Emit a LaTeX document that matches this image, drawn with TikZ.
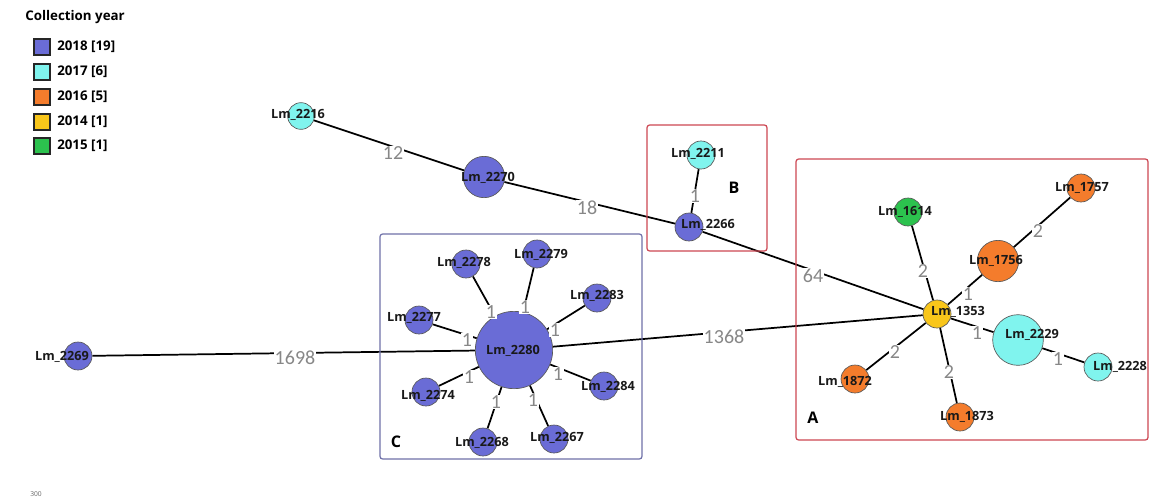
\documentclass[tikz,border=0pt]{standalone}
\usepackage{fontspec}
\setmainfont{Open Sans}
\newfontfamily\numfont{Carlito}
\usetikzlibrary{backgrounds}
\definecolor{cEight}{RGB}{106,108,214}
\definecolor{cSeven}{RGB}{128,244,238}
\definecolor{cSix}{RGB}{244,124,44}
\definecolor{cFour}{RGB}{249,198,26}
\definecolor{cFive}{RGB}{44,194,78}
\definecolor{boxred}{RGB}{204,70,82}
\definecolor{boxblue}{RGB}{110,112,168}
\definecolor{elgray}{RGB}{135,135,135}
\tikzset{
  nd/.style={circle,draw=black!65,line width=0.5pt,inner sep=0pt},
  rs/.style={minimum size=21pt},
  lab/.style={font=\fontsize{9.5}{10}\selectfont\bfseries,inner sep=0pt,text=black!90},
  el/.style={font=\numfont\fontsize{15}{15}\selectfont,text=elgray,fill=white,inner sep=0.6pt},
  edge/.style={line width=1.3pt,black},
  grp/.style={line width=0.9pt,rounded corners=2pt},
  grplab/.style={font=\fontsize{12}{12}\selectfont\bfseries,inner sep=0pt},
  lgbox/.style={draw=black!85,line width=1pt,minimum size=12pt,inner sep=0pt},
  lgtxt/.style={font=\fontsize{10}{11}\selectfont\bfseries,anchor=west,inner sep=0pt}
}
\begin{document}
\begin{tikzpicture}[x=0.75pt,y=-0.75pt]
\useasboundingbox (0,0) rectangle (1151,501);
% group boxes
\draw[grp,draw=boxblue] (380,234) rectangle (642,459);
\draw[grp,draw=boxred] (647,125) rectangle (767,251);
\draw[grp,draw=boxred] (796,159) rectangle (1148,440);
\node[grplab] (gC) at (396,442) {C};
\node[grplab] (gB) at (734,188) {B};
\node[grplab] (gA) at (813,418) {A};
% legend
\node[font=\fontsize{10}{11}\selectfont\bfseries,anchor=west,inner sep=0pt] (lgt) at (25,17) {Collection year};
\node[lgbox,fill=cEight] (lg1) at (42,47) {};
\node[lgtxt] (lt1) at (57,47) {2018 [19]};
\node[lgbox,fill=cSeven] (lg2) at (42,72) {};
\node[lgtxt] (lt2) at (57,72) {2017 [6]};
\node[lgbox,fill=cSix] (lg3) at (42,97) {};
\node[lgtxt] (lt3) at (57,97) {2016 [5]};
\node[lgbox,fill=cFour] (lg4) at (42,122) {};
\node[lgtxt] (lt4) at (57,122) {2014 [1]};
\node[lgbox,fill=cFive] (lg5) at (42,146) {};
\node[lgtxt] (lt5) at (57,146) {2015 [1]};
% nodes
\node[nd,rs,minimum size=20pt,fill=cSeven] (n2216) at (301,116) {};
\node[nd,minimum size=31pt,fill=cEight] (n2270) at (484,177) {};
\node[nd,rs,fill=cEight] (n2266) at (689,227) {};
\node[nd,rs,fill=cSeven] (n2211) at (701,155) {};
\node[nd,rs,fill=cFour] (n1353) at (937,314) {};
\node[nd,rs,fill=cFive] (n1614) at (908,212) {};
\node[nd,minimum size=31pt,fill=cSix] (n1756) at (998,261) {};
\node[nd,rs,fill=cSix] (n1757) at (1081,188) {};
\node[nd,minimum size=38pt,fill=cSeven] (n2229) at (1018,340) {};
\node[nd,rs,fill=cSeven] (n2228) at (1098,367) {};
\node[nd,rs,fill=cSix] (n1872) at (855,379) {};
\node[nd,rs,fill=cSix] (n1873) at (960,417) {};
\node[nd,minimum size=58pt,fill=cEight] (n2280) at (514,350) {};
\node[nd,rs,fill=cEight] (n2278) at (466,264) {};
\node[nd,rs,fill=cEight] (n2279) at (537,254) {};
\node[nd,rs,fill=cEight] (n2283) at (597,298) {};
\node[nd,rs,fill=cEight] (n2277) at (419,320) {};
\node[nd,rs,fill=cEight] (n2284) at (604,386) {};
\node[nd,rs,fill=cEight] (n2274) at (426,392) {};
\node[nd,rs,fill=cEight] (n2268) at (483,442) {};
\node[nd,rs,fill=cEight] (n2267) at (554,439) {};
\node[nd,rs,fill=cEight] (n2269) at (78,356) {};
% edges
\begin{scope}[on background layer]
\draw[edge] (n2216) -- (n2270);
\draw[edge] (n2270) -- (n2266);
\draw[edge] (n2266) -- (n1353);
\draw[edge] (n2211) -- (n2266);
\draw[edge] (n2269) -- (n2280);
\draw[edge] (n2280) -- (n1353);
\draw[edge] (n1353) -- (n1614);
\draw[edge] (n1353) -- (n1756);
\draw[edge] (n1756) -- (n1757);
\draw[edge] (n1353) -- (n2229);
\draw[edge] (n2229) -- (n2228);
\draw[edge] (n1353) -- (n1872);
\draw[edge] (n1353) -- (n1873);
\foreach \t in {2278,2279,2283,2277,2284,2274,2268,2267}
  \draw[edge] (n2280) -- (n\t);
\end{scope}
% edge labels
\node[el] (e12) at (393,153) {12};
\node[el] (e18) at (587,208) {18};
\node[el] (e64) at (813,276) {64};
\node[el] (e1698) at (295,358) {1698};
\node[el] (e1368) at (724,337) {1368};
\node[el] (eB) at (695,196) {1};
\node[el] (eA1) at (923,271) {2};
\node[el] (eA2) at (968,294) {1};
\node[el] (eA3) at (1038,231) {2};
\node[el] (eA4) at (977,333) {1};
\node[el] (eA5) at (1058,359) {1};
\node[el] (eA6) at (895,352) {2};
\node[el] (eA7) at (949,372) {2};
\node[el] (eC1) at (491,312) {1};
\node[el] (eC2) at (525,307) {1};
\node[el] (eC3) at (555,330) {1};
\node[el] (eC4) at (467,340) {1};
\node[el] (eC5) at (558,374) {1};
\node[el] (eC6) at (469,377) {1};
\node[el] (eC7) at (496,402) {1};
\node[el] (eC8) at (533,400) {1};
% node labels
\node[lab] (t2216) at (298,115) {Lm\_2216};
\node[lab] (t2270) at (488,178) {Lm\_2270};
\node[lab] (t2266) at (708,225) {Lm\_2266};
\node[lab] (t2211) at (698,154) {Lm\_2211};
\node[lab] (t1353) at (958,312) {Lm\_1353};
\node[lab] (t1614) at (905,212) {Lm\_1614};
\node[lab] (t1756) at (996,261) {Lm\_1756};
\node[lab] (t1757) at (1082,188) {Lm\_1757};
\node[lab] (t2229) at (1032,335) {Lm\_2229};
\node[lab] (t2228) at (1120,367) {Lm\_2228};
\node[lab] (t1872) at (845,382) {Lm\_1872};
\node[lab] (t1873) at (967,417) {Lm\_1873};
\node[lab] (t2280) at (513,351) {Lm\_2280};
\node[lab] (t2278) at (464,263) {Lm\_2278};
\node[lab] (t2279) at (541,255) {Lm\_2279};
\node[lab] (t2283) at (597,296) {Lm\_2283};
\node[lab] (t2277) at (414,318) {Lm\_2277};
\node[lab] (t2284) at (608,387) {Lm\_2284};
\node[lab] (t2274) at (428,396) {Lm\_2274};
\node[lab] (t2268) at (482,443) {Lm\_2268};
\node[lab] (t2267) at (557,438) {Lm\_2267};
\node[lab] (t2269) at (62,357) {Lm\_2269};
% scale
\node[font=\fontsize{5}{5}\selectfont,text=black!60,inner sep=0pt] (sc) at (36,494) {300};
\end{tikzpicture}
\end{document}
